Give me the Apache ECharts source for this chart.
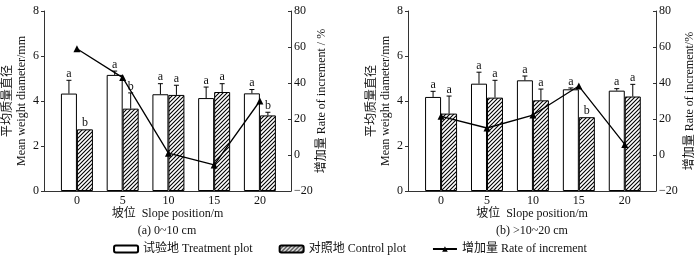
<!DOCTYPE html>
<html>
<head>
<meta charset="utf-8">
<script src="https://cdn.jsdelivr.net/npm/echarts@6/dist/echarts.min.js"></script>
<style>html,body{margin:0;padding:0;background:#fff;}#c{width:700px;height:256px;}</style>
</head>
<body>
<div id="c"></div>
<script>
// ---- data ----
const slopes = [0, 5, 10, 15, 20];
const mwdTicks = [0, 2, 4, 6, 8];
const rateTicks = [-20, 0, 20, 40, 60, 80];

// (a) 0~10 cm
const aTreat   = [4.33, 5.16, 4.30, 4.13, 4.34];
const aTreatUp = [4.92, 5.33, 4.77, 4.62, 4.51];
const aCtrl    = [2.74, 3.66, 4.27, 4.40, 3.36];
const aCtrlUp  = [2.74, 4.36, 4.70, 4.77, 3.50];
const aTreatSig = ['a', 'a', 'a', 'a', 'a'];
const aCtrlSig  = ['b', 'b', 'a', 'a', 'b'];
const aRate    = [59, 43, 1, -5.5, 30];

// (b) >10~20 cm
const bTreat   = [4.18, 4.77, 4.92, 4.52, 4.46];
const bTreatUp = [4.43, 5.28, 5.11, 4.58, 4.55];
const bCtrl    = [3.44, 4.15, 4.03, 3.28, 4.20];
const bCtrlUp  = [4.22, 4.92, 4.53, 3.28, 4.74];
const bTreatSig = ['a', 'a', 'a', 'a', 'a'];
const bCtrlSig  = ['a', 'a', 'a', 'b', 'a'];
const bRate    = [21.5, 15, 22.2, 38.3, 5.9];

const nameT = '试验地 Treatment plot';
const nameC = '对照地 Control plot';
const nameR = '增加量 Rate of increment';
const xName = '坡位  Slope position/m';
const subTitles = ['(a) 0~10 cm', '(b) >10~20 cm'];
const yNameL = '平均质量直径\nMean weight diameter/mm';
const yNameR = ['增加量 Rate of increment / %', '增加量 Rate of increment/%'];

// ---- style ----
const FONT = '"Liberation Serif", "Noto Sans CJK SC", serif';
const TXT = '#111';
const BARW = 16;

function hatch() {
  const s = 4;
  const cv = document.createElement('canvas');
  cv.width = s; cv.height = s;
  const g = cv.getContext('2d');
  g.fillStyle = '#fff'; g.fillRect(0, 0, s, s);
  g.strokeStyle = '#000'; g.lineWidth = 1.1;
  g.beginPath();
  g.moveTo(0, s); g.lineTo(s, 0);
  g.moveTo(-1, 1); g.lineTo(1, -1);
  g.moveTo(s - 1, s + 1); g.lineTo(s + 1, s - 1);
  g.stroke();
  return { image: cv, repeat: 'repeat' };
}
const hatchFill = hatch();

function errRender(offset, sigs) {
  return function (params, api) {
    const x = api.value(0), m = api.value(1), u = api.value(2);
    const p0 = api.coord([x, m]);
    const p1 = api.coord([x, u]);
    const cx = p0[0] + offset;
    const ch = [];
    if (u > m + 0.001) {
      ch.push({ type: 'line', shape: { x1: cx, y1: p0[1], x2: cx, y2: p1[1] }, style: { stroke: '#000', lineWidth: 1 } });
      ch.push({ type: 'line', shape: { x1: cx - 2.5, y1: p1[1], x2: cx + 2.5, y2: p1[1] }, style: { stroke: '#000', lineWidth: 1 } });
    }
    ch.push({ type: 'text', x: cx, y: p1[1] - 0.5, style: { text: sigs[params.dataIndex], fill: TXT, font: '12px ' + FONT, align: 'center', verticalAlign: 'bottom' } });
    return { type: 'group', children: ch };
  };
}

const panels = [
  { left: 43, treat: aTreat, treatUp: aTreatUp, ctrl: aCtrl, ctrlUp: aCtrlUp, ts: aTreatSig, cs: aCtrlSig, rate: aRate, rGap: 25 },
  { left: 408, treat: bTreat, treatUp: bTreatUp, ctrl: bCtrl, ctrlUp: bCtrlUp, ts: bTreatSig, cs: bCtrlSig, rate: bRate, rGap: 28 }
];

const grid = [], xAxis = [], yAxis = [], series = [], title = [];
panels.forEach((p, i) => {
  grid.push({ left: p.left, top: 11, width: 248, height: 180 });
  title.push({ text: subTitles[i], left: p.left + 124, top: 225, textAlign: 'center', padding: 0,
    textStyle: { fontSize: 12, fontWeight: 'normal', color: TXT, fontFamily: FONT } });
  xAxis.push({
    gridIndex: i, type: 'value', min: -3.6, max: 23.4,
    axisLine: { show: true, onZero: false, lineStyle: { color: '#333', width: 1 } },
    axisTick: { show: false }, splitLine: { show: false },
    axisLabel: { customValues: slopes, fontSize: 12, color: TXT, fontFamily: FONT, margin: 4 },
    name: xName, nameLocation: 'middle', nameGap: 17, nameMoveOverlap: false,
    nameTextStyle: { fontSize: 12, color: TXT, fontFamily: FONT }
  });
  yAxis.push({
    gridIndex: i, type: 'value', position: 'left', min: 0, max: 8, interval: 2,
    axisLine: { show: true, onZero: false, lineStyle: { color: '#333', width: 1 } },
    axisTick: { show: true, inside: false, length: 3, lineStyle: { color: '#333' } },
    splitLine: { show: false },
    axisLabel: { fontSize: 12, color: TXT, fontFamily: FONT, margin: 5 },
    name: yNameL, nameLocation: 'middle', nameRotate: 90, nameGap: 15, nameMoveOverlap: false,
    nameTextStyle: { fontSize: 12, lineHeight: 14, color: TXT, fontFamily: FONT }
  });
  yAxis.push({
    gridIndex: i, type: 'value', position: 'right', min: -20, max: 80, interval: 20,
    axisLine: { show: true, onZero: false, lineStyle: { color: '#333', width: 1 } },
    axisTick: { show: true, inside: true, length: 3, lineStyle: { color: '#333' } },
    splitLine: { show: false },
    axisLabel: { fontSize: 12, color: TXT, fontFamily: FONT, margin: 3,
      formatter: v => String(v).replace('-', '\u2212') },
    name: yNameR[i], nameLocation: 'middle', nameRotate: 90, nameGap: p.rGap, nameMoveOverlap: false,
    nameTextStyle: { fontSize: 12, color: TXT, fontFamily: FONT }
  });
  series.push({
    name: nameT, type: 'bar', xAxisIndex: i, yAxisIndex: 2 * i, barWidth: BARW, barGap: '0%',
    data: slopes.map((s, k) => [s, p.treat[k]]),
    itemStyle: { color: '#fff', borderColor: '#000', borderWidth: 1 }
  });
  series.push({
    name: nameC, type: 'bar', xAxisIndex: i, yAxisIndex: 2 * i, barWidth: BARW, barGap: '0%',
    data: slopes.map((s, k) => [s, p.ctrl[k]]),
    itemStyle: { color: hatchFill, borderColor: '#000', borderWidth: 1 }
  });
  series.push({
    name: 'errT' + i, type: 'custom', xAxisIndex: i, yAxisIndex: 2 * i, z: 3,
    data: slopes.map((s, k) => [s, p.treat[k], p.treatUp[k]]),
    renderItem: errRender(-BARW / 2, p.ts)
  });
  series.push({
    name: 'errC' + i, type: 'custom', xAxisIndex: i, yAxisIndex: 2 * i, z: 3,
    data: slopes.map((s, k) => [s, p.ctrl[k], p.ctrlUp[k]]),
    renderItem: errRender(BARW / 2, p.cs)
  });
  series.push({
    name: nameR, type: 'line', xAxisIndex: i, yAxisIndex: 2 * i + 1, z: 5,
    data: slopes.map((s, k) => [s, p.rate[k]]),
    symbol: 'triangle', symbolSize: 7, showSymbol: true,
    lineStyle: { color: '#000', width: 1.3 }, itemStyle: { color: '#000' }
  });
});

const chart = echarts.init(document.getElementById('c'), null, { renderer: 'canvas' });
chart.setOption({
  animation: false,
  backgroundColor: '#fff',
  textStyle: { fontFamily: FONT },
  title,
  legend: {
    data: [nameT, nameC, nameR], left: 'center', top: 243, itemWidth: 24, itemHeight: 7, itemGap: 26,
    textStyle: { fontSize: 12, color: TXT, fontFamily: FONT }, padding: 0, selectedMode: false
  },
  grid, xAxis, yAxis, series
});
</script>
</body>
</html>
